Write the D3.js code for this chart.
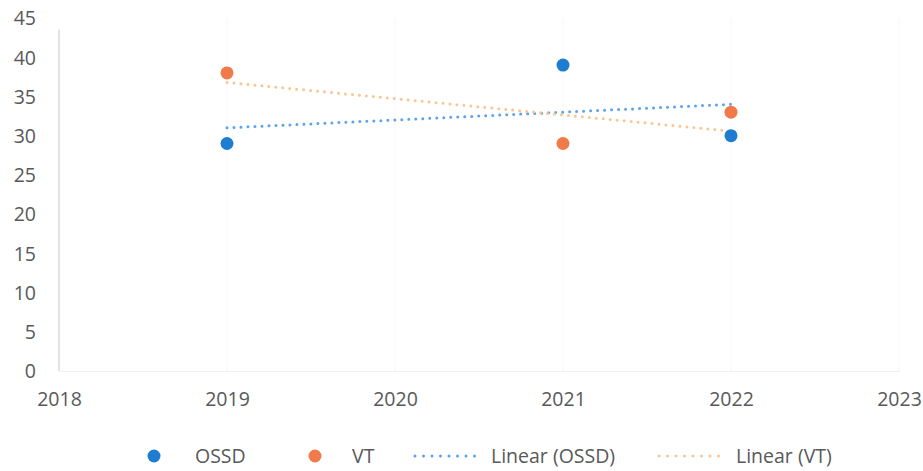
<!DOCTYPE html>
<html>
<head>
<meta charset="utf-8">
<script src="https://cdn.jsdelivr.net/npm/d3@7/dist/d3.min.js"></script>
<style>
  html, body { margin: 0; padding: 0; background: #fff; }
  svg text { font-family: "Open Sans", "Noto Sans", sans-serif; fill: #595959; }
</style>
</head>
<body>
<svg id="chart" width="923" height="471"></svg>
<script>
// Survey years and scores per programme
const years = [2019, 2021, 2022];
const ossdValues = [29, 39, 30];
const vtValues = [38, 29, 33];
const xTicks = [2018, 2019, 2020, 2021, 2022, 2023];
const yTicks = [0, 5, 10, 15, 20, 25, 30, 35, 40, 45];
const seriesNames = ["OSSD", "VT"];
const trendNames = ["Linear (OSSD)", "Linear (VT)"];

const colors = { OSSD: "#1f7dd1", VT: "#f07a4a" };
const trendColors = { OSSD: "#5ba3ec", VT: "#f9c693" };

const svg = d3.select("#chart");
const FONT = "19.5px";

const x = d3.scaleLinear().domain([2018, 2023]).range([59, 899]);
const y = d3.scaleLinear().domain([0, 45]).range([371, 18]);

// faint vertical grid
svg.append("g")
  .selectAll("line")
  .data(xTicks.slice(1))
  .join("line")
  .attr("x1", d => x(d)).attr("x2", d => x(d))
  .attr("y1", y(45)).attr("y2", y(0))
  .attr("stroke", "#f6f6f6").attr("stroke-width", 1);

// axes
const yAxis = svg.append("g")
  .attr("transform", `translate(${x(2018)},0)`)
  .call(d3.axisLeft(y).tickValues(yTicks).tickSize(0).tickPadding(23));
yAxis.select(".domain").attr("stroke", "#e2e2e2").attr("stroke-width", 2)
  .attr("d", `M0,${y(43.5)}V${y(0)}`);
yAxis.selectAll("text").style("font-size", FONT).attr("dy", "0.35em");

const xAxis = svg.append("g")
  .attr("transform", `translate(0,${y(0)})`)
  .call(d3.axisBottom(x).tickValues(xTicks).tickFormat(d3.format("d")).tickSize(0).tickPadding(21));
xAxis.select(".domain").attr("stroke", "#f0f0f0").attr("stroke-width", 1);
xAxis.selectAll("text").style("font-size", FONT);

// least-squares trend lines
function linearFit(xs, ys) {
  const mx = d3.mean(xs), my = d3.mean(ys);
  let sxy = 0, sxx = 0;
  xs.forEach((v, i) => { sxy += (v - mx) * (ys[i] - my); sxx += (v - mx) * (v - mx); });
  const b = sxy / sxx, a = my - b * mx;
  return xv => a + b * xv;
}

const series = [
  { name: "OSSD", values: ossdValues },
  { name: "VT", values: vtValues }
];

const line = d3.line().x(d => x(d[0])).y(d => y(d[1]));

series.forEach(s => {
  const f = linearFit(years, s.values);
  const ends = [years[0], years[years.length - 1]].map(v => [v, f(v)]);
  svg.append("path")
    .attr("d", line(ends))
    .attr("fill", "none")
    .attr("stroke", trendColors[s.name])
    .attr("stroke-width", 3)
    .attr("stroke-linecap", "round")
    .attr("stroke-dasharray", "0 7");
});

// data points
series.forEach(s => {
  svg.append("g")
    .selectAll("circle")
    .data(years.map((yr, i) => [yr, s.values[i]]))
    .join("circle")
    .attr("cx", d => x(d[0]))
    .attr("cy", d => y(d[1]))
    .attr("r", 6.5)
    .attr("fill", colors[s.name]);
});

// legend
const legY = 456;
const leg = svg.append("g");
const items = [
  { type: "dot", key: "OSSD", label: seriesNames[0], mx: 154, tx: 195 },
  { type: "dot", key: "VT", label: seriesNames[1], mx: 315, tx: 352 },
  { type: "line", key: "OSSD", label: trendNames[0], mx: 415, tx: 491 },
  { type: "line", key: "VT", label: trendNames[1], mx: 659, tx: 736 }
];
items.forEach(it => {
  if (it.type === "dot") {
    leg.append("circle").attr("cx", it.mx).attr("cy", legY).attr("r", 6.5).attr("fill", colors[it.key]);
  } else {
    leg.append("line")
      .attr("x1", it.mx).attr("x2", it.mx + 68)
      .attr("y1", legY).attr("y2", legY)
      .attr("stroke", trendColors[it.key]).attr("stroke-width", 3)
      .attr("stroke-linecap", "round").attr("stroke-dasharray", "0 8.5");
  }
  leg.append("text").attr("x", it.tx).attr("y", legY).attr("dy", "0.35em")
    .style("font-size", FONT).text(it.label);
});
</script>
</body>
</html>
